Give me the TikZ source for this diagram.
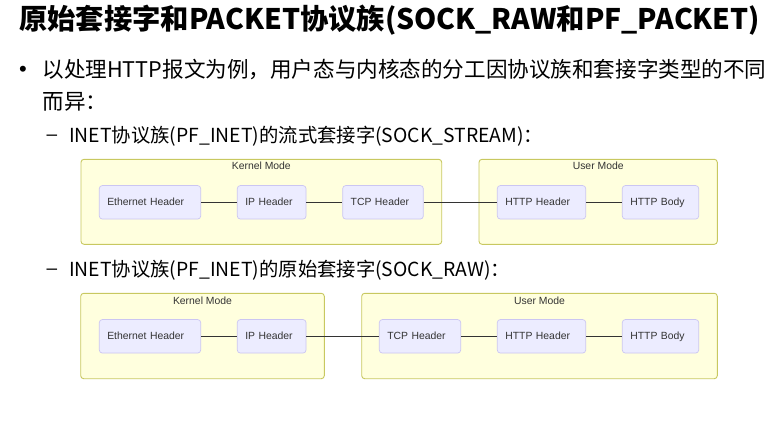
\documentclass[tikz,border=0pt]{standalone}
\usepackage{fontspec}
\usepackage{graphicx}
\setmainfont{Liberation Sans}
\newfontfamily\cjk{Noto Sans CJK SC}
\definecolor{clfill}{HTML}{FFFFDE}
\definecolor{cldraw}{HTML}{C8C860}
\definecolor{ndfill}{HTML}{ECECFF}
\definecolor{nddraw}{HTML}{CBC6F2}
\definecolor{edge}{HTML}{333333}
\definecolor{lbl}{HTML}{333333}
\newsavebox\mybox
\tikzset{
  cluster/.style={draw=cldraw, fill=clfill, line width=0.9pt, rounded corners=3pt},
  clabel/.style={text=lbl, font=\fontsize{10.4}{12}\selectfont, inner sep=0pt},
  hdr/.style={draw=nddraw, fill=ndfill, line width=0.7pt, rounded corners=3pt,
    minimum height=33.5pt, inner xsep=8pt, inner ysep=0pt, align=left,
    text height=7.6pt, text depth=2.2pt,
    text=lbl, font=\fontsize{10.4}{12}\selectfont},
  conn/.style={draw=edge, line width=0.8pt},
  txt/.style={inner sep=0pt, anchor=west, text=black},
  dashmark/.style={inner sep=0pt, font=\fontsize{19}{19}\selectfont}
}
\begin{document}
\sbox\mybox{\cjk\bfseries\fontsize{20}{20}\selectfont 原始套接字和PACKET协议族(SOCK\_RAW和PF\_PACKET)}%
\pgfmathsetmacro\fsT{741/\the\wd\mybox*20}%
\sbox\mybox{\cjk\fontsize{20}{20}\selectfont 以处理HTTP报文为例，用户态与内核态的分工因协议族和套接字类型的不同}%
\pgfmathsetmacro\fsA{724/\the\wd\mybox*20}%
\sbox\mybox{\cjk\fontsize{20}{20}\selectfont INET协议族(PF\_INET)的流式套接字(SOCK\_STREAM)：}%
\pgfmathsetmacro\fsB{474/\the\wd\mybox*20}%
\begin{tikzpicture}[x=1pt,y=-1pt]
\useasboundingbox[fill=white] (0,0) rectangle (778,434);
% title and bullets
\node[txt, font=\cjk\bfseries\fontsize{\fsT}{\fsT}\selectfont] (title) at (19,20) {原始套接字和PACKET协议族(SOCK\_RAW和PF\_PACKET)};
\node[inner sep=0pt, font=\fontsize{22}{22}\selectfont] (b1) at (23,71) {•};
\node[txt, font=\cjk\fontsize{\fsA}{\fsA}\selectfont] (l1) at (42.3,70) {以处理HTTP报文为例，用户态与内核态的分工因协议族和套接字类型的不同};
\node[txt, font=\cjk\fontsize{\fsA}{\fsA}\selectfont] (l2) at (42.3,102) {而异：};
\node[dashmark] (d1) at (52,138) {–};
\node[txt, font=\cjk\fontsize{\fsB}{\fsB}\selectfont] (s1) at (69,136) {INET协议族(PF\_INET)的流式套接字(SOCK\_STREAM)：};
\node[dashmark] (d2) at (52,272) {–};
\node[txt, font=\cjk\fontsize{\fsB}{\fsB}\selectfont] (s2) at (69,270) {INET协议族(PF\_INET)的原始套接字(SOCK\_RAW)：};
% row 1 clusters
\draw[cluster] (81,159.3) rectangle (441.7,244.3);
\node[clabel] (k1lab) at (261.3,166) {Kernel Mode};
\draw[cluster] (479,159.3) rectangle (717.3,244.3);
\node[clabel] (u1lab) at (598.2,166) {User Mode};
% row 1 nodes
\node[hdr, text width=101.4pt-16pt] (eth1) at (150,202.3) {Ethernet Header};
\node[hdr, text width=68.7pt-16pt] (ip1) at (271.65,202.3) {IP Header};
\node[hdr, text width=80.6pt-16pt] (tcp1) at (383,202.3) {TCP Header};
\node[hdr, text width=88.4pt-16pt] (hh1) at (541.5,202.3) {HTTP Header};
\node[hdr, text width=76.4pt-16pt] (hb1) at (660.5,202.3) {HTTP Body};
\draw[conn] (eth1) -- (ip1);
\draw[conn] (ip1) -- (tcp1);
\draw[conn] (tcp1) -- (hh1);
\draw[conn] (hh1) -- (hb1);
% row 2 clusters
\draw[cluster] (80.7,293.3) rectangle (324.3,378.7);
\node[clabel] (k2lab) at (202.5,300.3) {Kernel Mode};
\draw[cluster] (361.7,293.3) rectangle (717.3,378.7);
\node[clabel] (u2lab) at (539.5,300.3) {User Mode};
% row 2 nodes
\node[hdr, text width=101.4pt-16pt] (eth2) at (150,336.3) {Ethernet Header};
\node[hdr, text width=68.7pt-16pt] (ip2) at (271.65,336.3) {IP Header};
\node[hdr, text width=81.4pt-16pt] (tcp2) at (420,336.3) {TCP Header};
\node[hdr, text width=88.4pt-16pt] (hh2) at (541.5,336.3) {HTTP Header};
\node[hdr, text width=76.4pt-16pt] (hb2) at (660.5,336.3) {HTTP Body};
\draw[conn] (eth2) -- (ip2);
\draw[conn] (ip2) -- (tcp2);
\draw[conn] (tcp2) -- (hh2);
\draw[conn] (hh2) -- (hb2);
\end{tikzpicture}
\end{document}
